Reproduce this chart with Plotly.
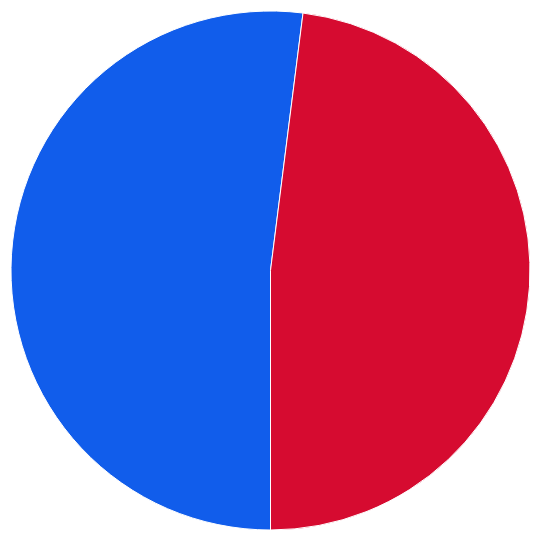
import plotly.graph_objects as go

# two-way split
labels = ["Blue", "Red"]
values = [52.0, 48.0]
colors = ["#115DEB", "#D60B30"]

fig = go.Figure(
    go.Pie(
        labels=labels,
        values=values,
        sort=False,
        direction="clockwise",
        rotation=180,
        textinfo="none",
        hoverinfo="label+percent",
        marker=dict(colors=colors, line=dict(color="white", width=1)),
    )
)

# page body adds an 8px offset, so the margins lean left/top
fig.update_layout(
    width=540,
    height=540,
    showlegend=False,
    margin=dict(l=3, r=18, t=3, b=18),
    paper_bgcolor="white",
    plot_bgcolor="white",
)

fig.write_html("out.html")
